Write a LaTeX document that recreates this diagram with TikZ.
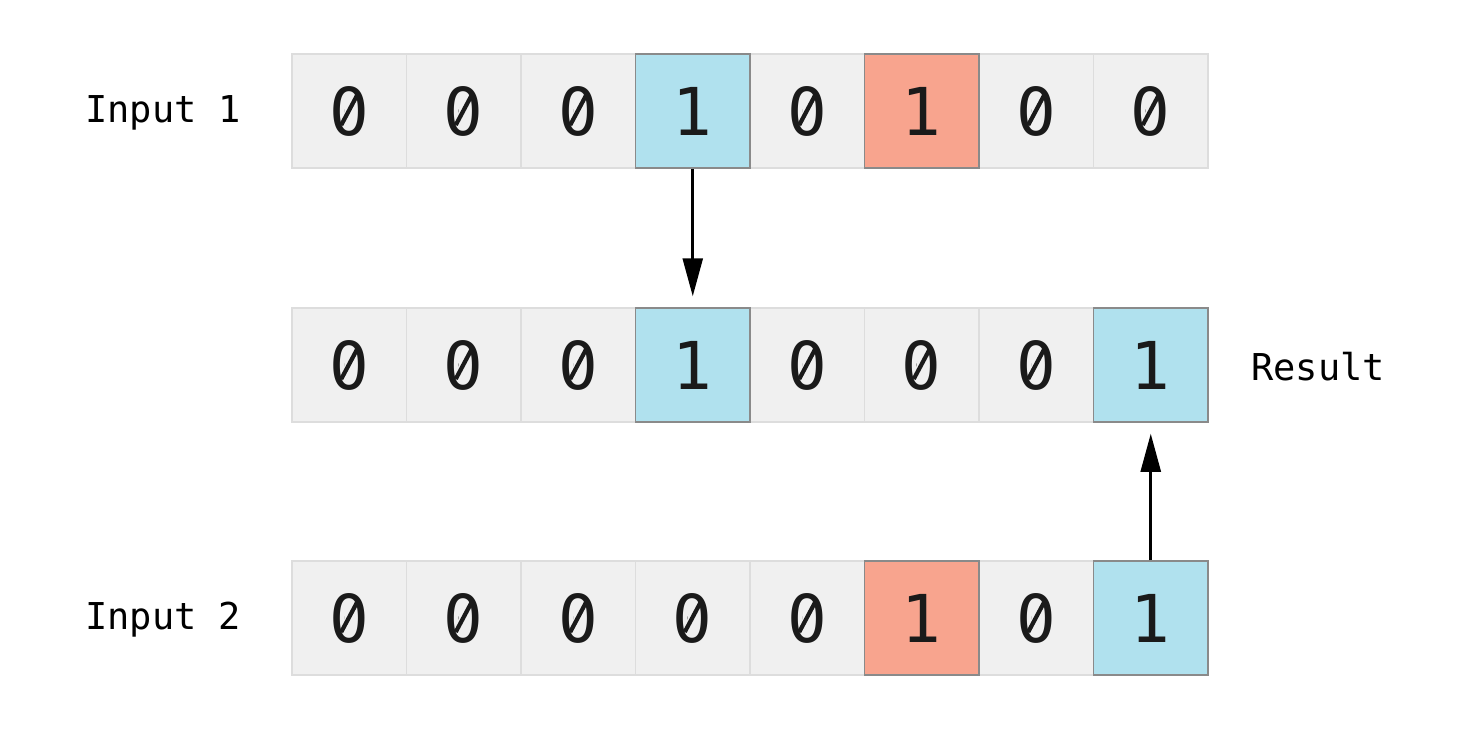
\documentclass[tikz,border=0pt]{standalone}
\usepackage{fontspec}
\newfontfamily\mono{DejaVu Sans Mono}
\usetikzlibrary{arrows.meta}
\definecolor{cellgray}{HTML}{F0F0F0}
\definecolor{cellline}{HTML}{DDDDDD}
\definecolor{hiline}{HTML}{8A8A8A}
\definecolor{hiblue}{HTML}{B0E1EE}
\definecolor{hired}{HTML}{F8A48E}
\definecolor{digit}{HTML}{1A1A1A}
\tikzset{
  cell/.style={draw=cellline, fill=cellgray, line width=1.5pt, minimum width=114.5pt, minimum height=114pt, inner sep=0pt, font=\mono\fontsize{66}{66}\selectfont, text=digit},
  bluecell/.style={cell, draw=hiline, fill=hiblue},
  redcell/.style={cell, draw=hiline, fill=hired},
  lbl/.style={font=\mono\fontsize{37}{37}\selectfont, inner sep=0pt},
  flow/.style={line width=2.6pt, -{Triangle[width=20pt,length=38pt]}, shorten >=11pt},
  zslash/.style={draw=digit, line width=4.2pt}
}
% slashed zero: cover the dot and draw the slash
\newcommand{\zslashat}[1]{%
  \fill[cellgray] ([yshift=-1pt]#1.center) ellipse [x radius=5pt, y radius=10pt];
  \draw[zslash] ([xshift=-8pt,yshift=-14pt]#1.center) -- ([xshift=8pt,yshift=16pt]#1.center);
}
\begin{document}
\begin{tikzpicture}[x=1pt,y=-1pt]
\useasboundingbox[fill=white] (0,0) rectangle (1460,732);
% row 1
\foreach \v [count=\i] in {0,0,0,1,0,1,0,0} {
  \node[cell] (a\i) at ({292+114.5*(\i-0.5)},111) {\v};
  \ifnum\v=0 \zslashat{a\i}\fi
}
\node[bluecell] (a4) at ({292+114.5*3.5},111) {1};
\node[redcell] (a6) at ({292+114.5*5.5},111) {1};
% row 2
\foreach \v [count=\i] in {0,0,0,1,0,0,0,1} {
  \node[cell] (b\i) at ({292+114.5*(\i-0.5)},365) {\v};
  \ifnum\v=0 \zslashat{b\i}\fi
}
\node[bluecell] (b4) at ({292+114.5*3.5},365) {1};
\node[bluecell] (b8) at ({292+114.5*7.5},365) {1};
% row 3
\foreach \v [count=\i] in {0,0,0,0,0,1,0,1} {
  \node[cell] (c\i) at ({292+114.5*(\i-0.5)},618) {\v};
  \ifnum\v=0 \zslashat{c\i}\fi
}
\node[redcell] (c6) at ({292+114.5*5.5},618) {1};
\node[bluecell] (c8) at ({292+114.5*7.5},618) {1};
% labels
\node[lbl, anchor=west] (l1) at (85,113) {Input 1};
\node[lbl, anchor=west] (l2) at (1251,367) {Result};
\node[lbl, anchor=west] (l3) at (85,620) {Input 2};
% arrows
\draw[flow] (a4.south) -- (b4.north);
\draw[flow] (c8.north) -- (b8.south);
\end{tikzpicture}
\end{document}
